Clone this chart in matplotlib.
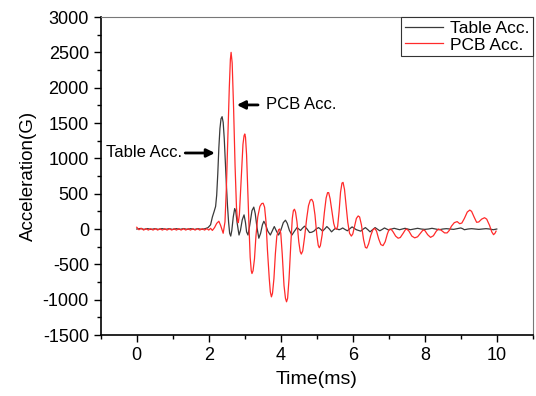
import matplotlib.pyplot as plt
from matplotlib.ticker import MultipleLocator

plt.rcParams['font.family'] = ['Liberation Sans', 'DejaVu Sans']
plt.rcParams['axes.unicode_minus'] = False

# --- Data ---
# Table acceleration (black)
t_table = [0.00, 0.10, 0.20, 0.30, 0.40, 0.50, 0.60, 0.70, 0.80, 0.90,
           1.00, 1.10, 1.20, 1.30, 1.40, 1.50, 1.60, 1.70, 1.80, 1.90,
           1.98, 2.05, 2.10, 2.15, 2.19, 2.22, 2.25, 2.28, 2.31, 2.34,
           2.37, 2.40, 2.43, 2.46, 2.49, 2.52, 2.55, 2.58, 2.61, 2.64,
           2.68, 2.72, 2.75, 2.79, 2.84, 2.88, 2.93, 2.98, 3.02, 3.05,
           3.09, 3.14, 3.20, 3.25, 3.29, 3.34, 3.39, 3.44, 3.49, 3.53,
           3.58, 3.64, 3.71, 3.77, 3.82, 3.88, 3.94, 4.00, 4.07, 4.13,
           4.18, 4.24, 4.31, 4.38, 4.45, 4.50, 4.55, 4.60, 4.66, 4.73,
           4.80, 4.86, 4.92, 4.98, 5.05, 5.10, 5.16, 5.22, 5.28, 5.35,
           5.41, 5.47, 5.52, 5.57, 5.62, 5.67, 5.72, 5.78, 5.85, 5.92,
           5.98, 6.04, 6.10, 6.16, 6.22, 6.28, 6.35, 6.42, 6.48, 6.55,
           6.62, 6.68, 6.75, 6.82, 6.88, 6.94, 7.00, 7.08, 7.15, 7.22,
           7.30, 7.38, 7.45, 7.52, 7.60, 7.70, 7.80, 7.90, 8.00, 8.10,
           8.20, 8.30, 8.40, 8.50, 8.60, 8.70, 8.80, 8.90, 9.00, 9.05,
           9.10, 9.20, 9.30, 9.40, 9.50, 9.60, 9.70, 9.80, 9.90, 10.00]
a_table = [0, 8, -5, 6, -6, 5, -5, 6, -5, 5,
           -6, 5, -5, 6, -5, 5, -6, 5, -5, 5,
           20, 60, 170, 250, 320, 480, 780, 1150, 1420, 1560,
           1590, 1510, 1280, 950, 620, 330, 100, -60, -100, -20,
           170, 290, 250, 80, -85, -20, 130, 200, 90, -40,
           -85, 60, 260, 310, 220, 20, -130, -60, 60, 110,
           60, -30, -85, -20, 35, -30, -85, -20, 90, 125,
           80, -20, -85, -30, 20, 0, -20, 10, 40, 0,
           -50, -45, -30, 0, 20, 0, -30, 0, 35, 0,
           -40, -10, 10, 0, -10, 0, 15, -5, -25, 5,
           30, 10, -10, -20, -30, -5, 20, -10, -40, -10,
           20, 0, -25, -5, 15, 0, -15, 0, 10, 0,
           -10, 0, 10, 0, -10, 0, 10, 0, -5, 0,
           10, 0, -10, 0, 5, 0, -5, 5, 15, 5,
           -10, 0, 5, 0, -5, 0, 5, 0, -10, 0]

# PCB acceleration (red)
t_pcb = [0.00, 0.06, 0.13, 0.19, 0.26, 0.32, 0.39, 0.45, 0.52, 0.58,
         0.65, 0.71, 0.78, 0.84, 0.91, 0.97, 1.04, 1.10, 1.17, 1.23,
         1.30, 1.36, 1.43, 1.49, 1.56, 1.62, 1.69, 1.75, 1.82, 1.88,
         1.95, 2.00, 2.05, 2.10, 2.16, 2.22, 2.28, 2.33, 2.40, 2.45,
         2.49, 2.53, 2.57, 2.60, 2.62, 2.65, 2.69, 2.73, 2.77, 2.80,
         2.82, 2.85, 2.90, 2.95, 2.98, 3.00, 3.02, 3.05, 3.08, 3.12,
         3.15, 3.18, 3.20, 3.23, 3.27, 3.31, 3.36, 3.42, 3.47, 3.51,
         3.55, 3.59, 3.63, 3.68, 3.71, 3.74, 3.77, 3.81, 3.85, 3.89,
         3.94, 3.97, 4.00, 4.04, 4.09, 4.13, 4.16, 4.19, 4.23, 4.28,
         4.32, 4.35, 4.38, 4.41, 4.45, 4.50, 4.54, 4.57, 4.61, 4.66,
         4.72, 4.77, 4.82, 4.86, 4.90, 4.95, 5.00, 5.04, 5.07, 5.10,
         5.15, 5.21, 5.26, 5.30, 5.33, 5.37, 5.42, 5.47, 5.51, 5.55,
         5.58, 5.62, 5.66, 5.70, 5.73, 5.77, 5.81, 5.86, 5.91, 5.96,
         6.00, 6.05, 6.10, 6.15, 6.19, 6.24, 6.30, 6.35, 6.39, 6.44,
         6.50, 6.56, 6.61, 6.66, 6.72, 6.78, 6.84, 6.90, 6.96, 7.01,
         7.06, 7.12, 7.19, 7.26, 7.32, 7.40, 7.46, 7.50, 7.56, 7.64,
         7.72, 7.80, 7.88, 7.95, 8.00, 8.08, 8.16, 8.24, 8.32, 8.38,
         8.45, 8.55, 8.62, 8.68, 8.74, 8.82, 8.90, 8.97, 9.03, 9.10,
         9.18, 9.25, 9.30, 9.37, 9.44, 9.50, 9.58, 9.66, 9.72, 9.80,
         9.86, 9.91, 9.95, 9.98]
a_pcb = [25, -10, 10, -15, 5, -15, 5, -15, 5, -15,
         5, -15, 5, -15, 5, -15, 5, -15, 5, -15,
         5, -15, 5, -15, 5, -15, 5, -15, 5, -15,
         5, -15, 10, -20, 20, 80, 110, 50, -60, 100,
         600, 1300, 2000, 2400, 2500, 2350, 1700, 900, 300, 110,
         90, 200, 700, 1200, 1320, 1345, 1300, 1050, 600, 0,
         -400, -590, -630, -590, -420, -100, 170, 320, 360, 365,
         310, 100, -300, -700, -890, -960, -910, -700, -350, -100,
         -10, 0, -60, -350, -800, -980, -1030, -980, -700, -200,
         150, 260, 280, 240, 100, -180, -320, -355, -310, -120,
         150, 330, 410, 420, 380, 200, -80, -230, -265, -235,
         -80, 230, 440, 515, 515, 430, 250, 80, 10, -5,
         40, 250, 520, 650, 660, 560, 350, 100, -60, -100,
         -70, 40, 150, 185, 170, 60, -150, -260, -270, -210,
         -90, -10, 10, -30, -140, -220, -235, -180, -70, -5,
         0, -40, -100, -130, -120, -60, -10, 0, -30, -100,
         -125, -110, -60, -15, -20, -80, -118, -95, -30, 0,
         -15, -55, -55, -20, 40, 90, 105, 75, 85, 150,
         240, 268, 250, 170, 95, 100, 140, 160, 140, 50,
         -40, -80, -60, -30]

fig = plt.figure(figsize=(5.36, 3.96), dpi=100)
ax = fig.add_axes([0.188, 0.154, 0.806, 0.803])

ax.plot(t_table, a_table, color='#3a3a3a', lw=0.9, label='Table Acc.')
ax.plot(t_pcb, a_pcb, color='#ff2a2a', lw=0.9, label='PCB Acc.')

ax.set_xlim(-1, 11)
ax.set_ylim(-1500, 3000)
ax.xaxis.set_major_locator(MultipleLocator(2))
ax.xaxis.set_minor_locator(MultipleLocator(1))
ax.yaxis.set_major_locator(MultipleLocator(500))
ax.yaxis.set_minor_locator(MultipleLocator(250))
ax.tick_params(which='major', direction='out', length=5, width=1, labelsize=13)
ax.tick_params(which='minor', direction='out', length=3, width=1)

for side in ['left', 'bottom']:
    ax.spines[side].set_linewidth(1.2)
for side in ['top', 'right']:
    ax.spines[side].set_linewidth(0.8)
    ax.spines[side].set_color('#777777')

ax.set_xlabel('Time(ms)', fontsize=14, labelpad=5)
ax.set_ylabel('Acceleration(G)', fontsize=13.5, labelpad=4)

# annotations with arrows
ax.annotate('Table Acc.', xy=(2.17, 1076), xytext=(1.27, 1076),
            fontsize=12, ha='right', va='center',
            arrowprops=dict(arrowstyle='-|>', color='k', lw=2, mutation_scale=12,
                            shrinkA=0, shrinkB=0))
ax.annotate('PCB Acc.', xy=(2.78, 1756), xytext=(3.6, 1756),
            fontsize=12, ha='left', va='center',
            arrowprops=dict(arrowstyle='-|>', color='k', lw=2, mutation_scale=12,
                            shrinkA=4, shrinkB=0))

leg = ax.legend(loc='upper right', fontsize=12.5, fancybox=False, framealpha=1,
                edgecolor='#333333', borderaxespad=0, handlelength=2.2,
                handletextpad=0.4, borderpad=0.2, labelspacing=0.1)
leg.get_frame().set_linewidth(0.8)

fig.savefig('out.png', dpi=100)
